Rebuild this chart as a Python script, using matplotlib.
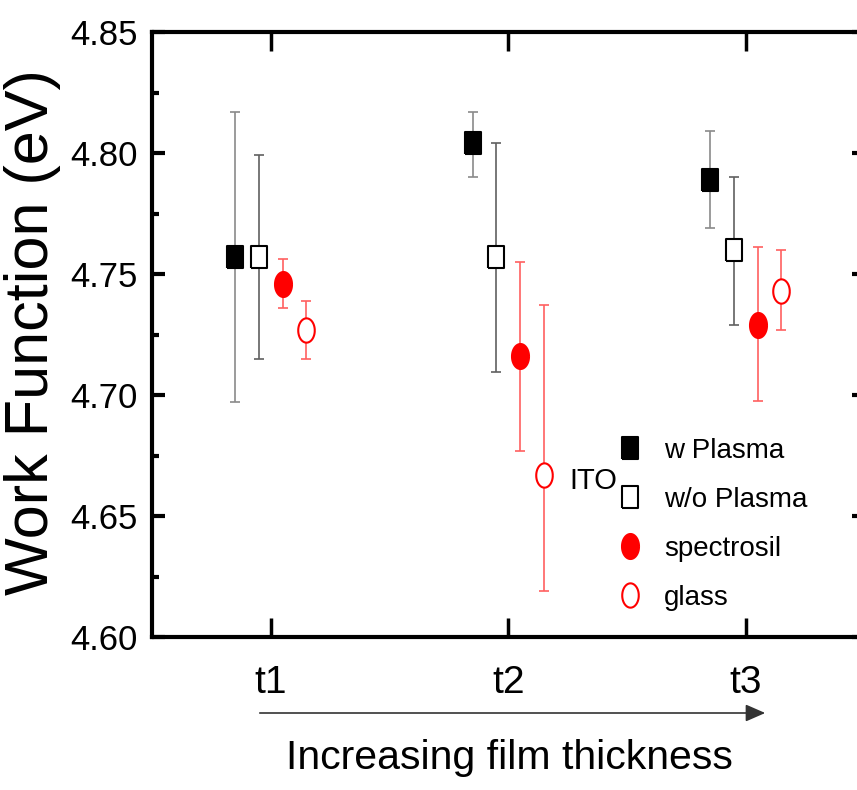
import numpy as np
import matplotlib
matplotlib.use("Agg")
import matplotlib.pyplot as plt

# ---------------- data ----------------
categories = ["t1", "t2", "t3"]
positions = [1, 2, 3]

w_plasma = [4.757, 4.804, 4.789]
w_plasma_lo = [4.697, 4.790, 4.769]
w_plasma_hi = [4.817, 4.817, 4.809]

wo_plasma = [4.757, 4.757, 4.760]
wo_plasma_lo = [4.715, 4.7095, 4.729]
wo_plasma_hi = [4.799, 4.804, 4.790]

spectrosil = [4.746, 4.716, 4.729]
spectrosil_lo = [4.736, 4.677, 4.6975]
spectrosil_hi = [4.756, 4.755, 4.761]

glass = [4.727, 4.667, 4.743]
glass_lo = [4.715, 4.619, 4.727]
glass_hi = [4.739, 4.737, 4.760]

labels = ["w Plasma", "w/o Plasma", "spectrosil", "glass"]

# ---------------- style ----------------
REG = ["Liberation Sans", "DejaVu Sans"]
plt.rcParams["font.family"] = REG

rect = [(-0.36, -0.5), (0.36, -0.5), (0.36, 0.5), (-0.36, 0.5), (-0.36, -0.5)]
t = np.linspace(0, 2 * np.pi, 60)
ellipse = list(zip(0.34 * np.cos(t), 0.5 * np.sin(t)))

fig = plt.figure(figsize=(8.57, 7.90), dpi=100)
ax = fig.add_axes([152 / 857, 153 / 790, 712.5 / 857, 605 / 790])

series = [
    (w_plasma, w_plasma_lo, w_plasma_hi, -0.15, rect, "black", "black", "#8a8a8a", 15.8),
    (wo_plasma, wo_plasma_lo, wo_plasma_hi, -0.05, rect, "white", "black", "#606060", 15.8),
    (spectrosil, spectrosil_lo, spectrosil_hi, 0.05, ellipse, "red", "red", "#ff6060", 18.0),
    (glass, glass_lo, glass_hi, 0.15, ellipse, "white", "red", "#ff6060", 17.5),
]

handles = []
for (vals, lo, hi, off, mk, fc, ec, errc, ms), lab in zip(series, labels):
    vals = np.array(vals); lo = np.array(lo); hi = np.array(hi)
    x = np.array(positions) + off
    ax.errorbar(x, vals, yerr=[vals - lo, hi - vals], fmt="none", ecolor=errc,
                elinewidth=1.2, capsize=3.8, capthick=1.2, zorder=2)
    h, = ax.plot(x, vals, linestyle="none", marker=mk, markersize=ms,
                 markerfacecolor=fc, markeredgecolor=ec, markeredgewidth=1.5,
                 zorder=3, label=lab)
    handles.append(h)

ax.set_xlim(0.5, 3.5)
ax.set_ylim(4.60, 4.85)
ax.set_xticks(positions)
ax.set_xticklabels(categories)
ax.set_yticks([4.60, 4.65, 4.70, 4.75, 4.80, 4.85])
ax.set_yticklabels(["4.60", "4.65", "4.70", "4.75", "4.80", "4.85"])
ax.set_yticks(np.arange(4.625, 4.85, 0.05), minor=True)

for s in ax.spines.values():
    s.set_linewidth(3)
ax.tick_params(axis="y", which="major", direction="in", length=9.5, width=3,
               labelsize=25, pad=10, right=True, left=True)
ax.tick_params(axis="y", which="minor", direction="in", length=5, width=3,
               right=True, left=True)
ax.tick_params(axis="x", which="major", direction="in", length=14, width=2.5,
               labelsize=28, pad=20, top=True, bottom=True)
ax.tick_params(axis="x", which="minor", bottom=False, top=False)

leg = ax.legend(handles=handles, loc="upper left",
                bbox_to_anchor=((614.7 - 152) / 712.5, (637 - 438) / 605),
                frameon=False, fontsize=20, handlelength=1.1, handletextpad=0.68,
                labelspacing=0.83, borderpad=0, borderaxespad=0)

ax.text((569 - 152) / 712.5, (637 - 481) / 605, "ITO", transform=ax.transAxes,
        fontsize=21, va="center", ha="left")

fig.text(33 / 857, (790 - 332) / 790, "Work Function (eV)", rotation=90,
         ha="center", va="center", fontsize=44)
fig.text(509 / 857, (790 - 758) / 790, "Increasing film thickness",
         ha="center", va="center", fontsize=29.5)

fig.add_artist(matplotlib.patches.FancyArrowPatch(
    (257 / 857, (790 - 713) / 790), (768 / 857, (790 - 713) / 790),
    transform=fig.transFigure, arrowstyle="-|>,head_length=8,head_width=3.5",
    mutation_scale=1.5, color="#333333", lw=1.2))

fig.savefig("out.png", dpi=100)
